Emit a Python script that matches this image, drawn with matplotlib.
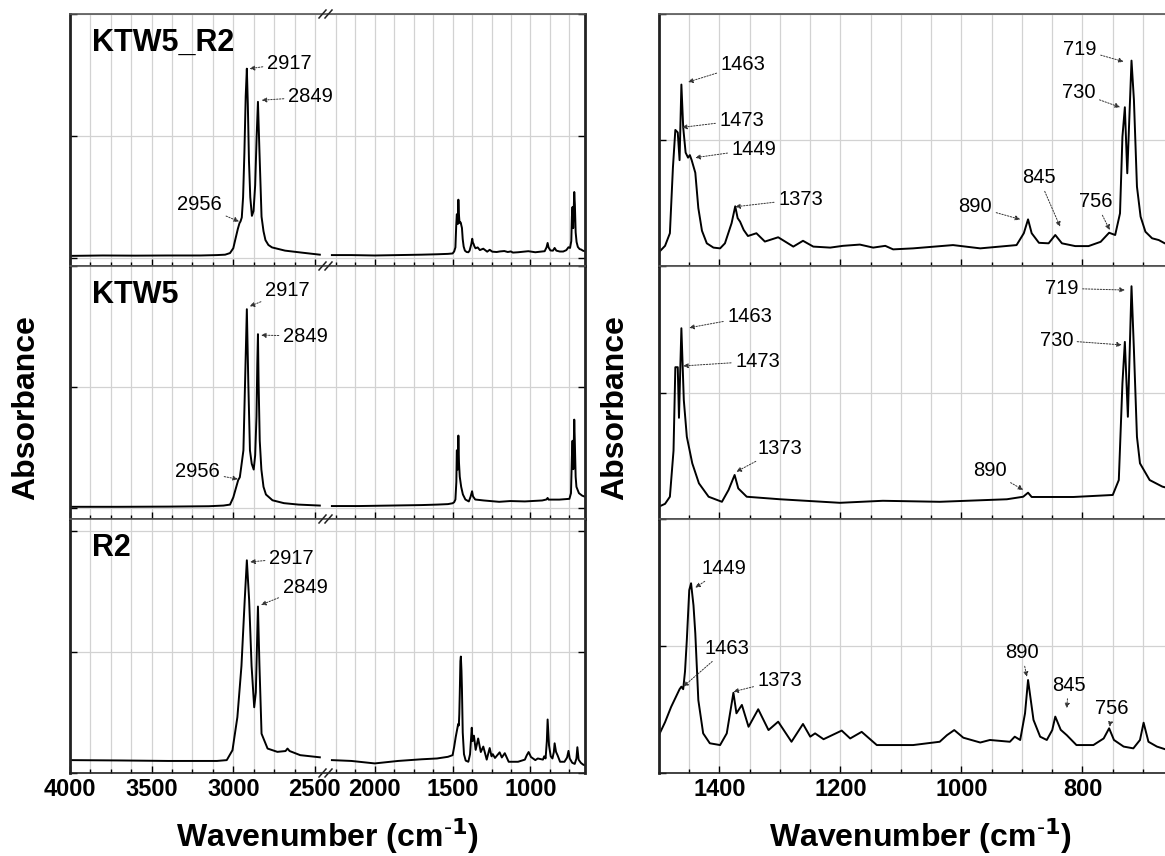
import numpy as np
import matplotlib
matplotlib.use('Agg')
import matplotlib.pyplot as plt

plt.rcParams['font.family'] = ['Liberation Sans', 'DejaVu Sans']

#---DATA (absorbance in arbitrary units)------------------------------------------------------------------

names = ['KTW5_R2', 'KTW5', 'R2']

#C-H stretching region (4000 - 2470 cm-1)
hi_wn_1 = [4000, 3800, 3600, 3400, 3200, 3100, 3050, 3020, 3000, 2985, 2972, 2962, 2956, 2948, 2940, 2932,
           2924, 2917, 2911, 2904, 2896, 2886, 2876, 2866, 2857, 2849, 2840, 2827, 2815, 2803, 2785, 2763,
           2683, 2583, 2470]
hi_a_1 = [0.025, 0.03, 0.028, 0.03, 0.03, 0.035, 0.04, 0.06, 0.12, 0.25, 0.36, 0.43, 0.45, 0.50, 0.75, 1.30,
          2.00, 2.34, 1.90, 1.20, 0.75, 0.52, 0.58, 0.90, 1.50, 1.93, 1.33, 0.51, 0.33, 0.22, 0.16, 0.13,
          0.09, 0.066, 0.04]

hi_wn_2 = [4000, 3700, 3400, 3150, 3060, 3020, 3000, 2985, 2970, 2960, 2952, 2938, 2928, 2917, 2908, 2898,
           2887, 2875, 2866, 2858, 2853, 2849, 2845, 2838, 2828, 2815, 2800, 2760, 2690, 2600, 2470]
hi_a_2 = [0.012, 0.012, 0.014, 0.018, 0.025, 0.035, 0.11, 0.20, 0.29, 0.32, 0.42, 0.60, 1.30, 2.07, 1.30, 0.60,
          0.46, 0.40, 0.55, 0.95, 1.50, 1.81, 1.30, 0.70, 0.40, 0.22, 0.14, 0.08, 0.05, 0.035, 0.025]

hi_wn_3 = [4000, 3700, 3400, 3100, 3040, 3005, 2975, 2950, 2930, 2917, 2903, 2888, 2872, 2862, 2849, 2840,
           2827, 2790, 2730, 2680, 2668, 2655, 2590, 2470]
hi_a_3 = [0.12, 0.118, 0.115, 0.115, 0.12, 0.18, 0.38, 0.69, 1.09, 1.33, 1.09, 0.69, 0.44, 0.53, 1.05, 0.70,
          0.28, 0.19, 0.17, 0.175, 0.19, 0.175, 0.15, 0.137]

#Fingerprint region (2275 - 655 cm-1)
lo_wn_1 = [2275, 2150, 2000, 1850, 1700, 1600, 1530, 1500, 1490, 1482, 1477, 1473, 1469, 1466, 1463, 1460,
           1456, 1452, 1449, 1446, 1440, 1435, 1429, 1421, 1410, 1399, 1391, 1380, 1374, 1370, 1366, 1360,
           1353, 1339, 1325, 1303, 1278, 1262, 1245, 1217, 1196, 1168, 1146, 1126, 1113, 1080, 1014, 969,
           909, 897, 890, 884, 872, 856, 845, 834, 812, 790, 770, 756, 746, 738, 734, 730,
           726, 719, 715, 710, 704, 696, 685, 674, 664, 655]
lo_a_1 = [0.035, 0.035, 0.03, 0.035, 0.04, 0.045, 0.05, 0.055, 0.08, 0.13, 0.39, 0.54, 0.53, 0.42, 0.72, 0.55,
          0.45, 0.43, 0.44, 0.42, 0.37, 0.23, 0.14, 0.09, 0.073, 0.07, 0.09, 0.17, 0.237, 0.19, 0.176, 0.143,
          0.119, 0.13, 0.097, 0.114, 0.077, 0.10, 0.077, 0.073, 0.08, 0.085, 0.073, 0.08, 0.066, 0.07, 0.083, 0.07,
          0.083, 0.13, 0.185, 0.13, 0.092, 0.09, 0.123, 0.09, 0.079, 0.079, 0.096, 0.132, 0.123, 0.209, 0.513, 0.63,
          0.368, 0.815, 0.659, 0.315, 0.196, 0.136, 0.11, 0.103, 0.09, 0.085]

lo_wn_2 = [2275, 2100, 1900, 1700, 1600, 1530, 1500, 1490, 1482, 1476, 1473, 1469, 1467, 1463, 1459, 1454,
           1445, 1434, 1418, 1396, 1385, 1375, 1369, 1355, 1300, 1201, 1130, 1036, 925, 898, 890, 884,
           815, 750, 740, 734, 730, 725, 719, 715, 710, 705, 689, 668, 655]
lo_a_2 = [0.02, 0.02, 0.025, 0.03, 0.035, 0.04, 0.049, 0.06, 0.088, 0.27, 0.60, 0.60, 0.40, 0.754, 0.47, 0.325,
          0.22, 0.141, 0.088, 0.068, 0.115, 0.174, 0.121, 0.088, 0.078, 0.064, 0.072, 0.068, 0.078, 0.088, 0.104, 0.087,
          0.087, 0.095, 0.154, 0.536, 0.70, 0.404, 0.92, 0.668, 0.325, 0.22, 0.154, 0.128, 0.12]

lo_wn_3 = [2275, 2150, 2050, 2000, 1950, 1850, 1700, 1600, 1530, 1500, 1490, 1480, 1470, 1466, 1463, 1460,
           1457, 1454, 1450, 1447, 1443, 1440, 1435, 1427, 1416, 1399, 1388, 1377, 1372, 1363, 1352, 1336,
           1319, 1303, 1281, 1262, 1250, 1242, 1228, 1198, 1184, 1165, 1140, 1080, 1036, 1024, 1012, 997,
           969, 953, 920, 912, 903, 895, 890, 881, 870, 859, 850, 845, 836, 826, 810, 782,
           765, 756, 748, 732, 716, 705, 699, 691, 677, 664, 655]
lo_a_3 = [0.12, 0.115, 0.105, 0.10, 0.105, 0.115, 0.125, 0.13, 0.14, 0.15, 0.20, 0.26, 0.31, 0.33, 0.34, 0.33,
          0.40, 0.524, 0.72, 0.747, 0.66, 0.55, 0.287, 0.156, 0.117, 0.11, 0.156, 0.316, 0.235, 0.268, 0.182, 0.251,
          0.169, 0.202, 0.123, 0.193, 0.143, 0.156, 0.133, 0.167, 0.136, 0.162, 0.11, 0.11, 0.123, 0.149, 0.169, 0.139,
          0.12, 0.13, 0.123, 0.143, 0.13, 0.235, 0.366, 0.209, 0.143, 0.13, 0.169, 0.222, 0.17, 0.149, 0.11, 0.11,
          0.136, 0.176, 0.13, 0.104, 0.097, 0.13, 0.198, 0.123, 0.104, 0.094, 0.09]

hi_wn = [hi_wn_1, hi_wn_2, hi_wn_3]
hi_a = [hi_a_1, hi_a_2, hi_a_3]
lo_wn = [lo_wn_1, lo_wn_2, lo_wn_3]
lo_a = [lo_a_1, lo_a_2, lo_a_3]

#Peak labels: (text, peak wn, peak abs, text wn, text abs, text alignment)
left_labels = [
    [('2917', 2900, 2.34, 2794, 2.41, 'left'), ('2849', 2826, 1.95, 2665, 1.99, 'left'),
     ('2956', 2965, 0.45, 3069, 0.655, 'right')],
    [('2917', 2900, 2.10, 2806, 2.26, 'left'), ('2849', 2830, 1.80, 2696, 1.79, 'left'),
     ('2956', 2972, 0.30, 3081, 0.378, 'right')],
    [('2917', 2897, 1.32, 2781, 1.343, 'left'), ('2849', 2830, 1.06, 2698, 1.168, 'left')],
]
right_labels = [
    [('1463', 1452, 0.73, 1398, 0.798, 'left'), ('1473', 1462, 0.55, 1400, 0.579, 'left'),
     ('1449', 1440, 0.43, 1380, 0.463, 'left'), ('1373', 1374, 0.235, 1303, 0.265, 'left'),
     ('890', 903, 0.185, 1005, 0.235, 'left'), ('845', 837, 0.156, 900, 0.35, 'left'),
     ('756', 755, 0.143, 806, 0.255, 'left'), ('730', 738, 0.63, 834, 0.689, 'left'),
     ('719', 732, 0.811, 832, 0.86, 'left')],
    [('1463', 1450, 0.756, 1387, 0.80, 'left'), ('1473', 1460, 0.605, 1374, 0.624, 'left'),
     ('1373', 1372, 0.187, 1337, 0.279, 'left'), ('890', 898, 0.115, 981, 0.191, 'left'),
     ('730', 735, 0.688, 871, 0.707, 'left'), ('719', 730, 0.905, 862, 0.912, 'left')],
    [('1449', 1440, 0.73, 1429, 0.806, 'left'), ('1463', 1460, 0.34, 1424, 0.491, 'left'),
     ('1373', 1377, 0.32, 1337, 0.366, 'left'), ('890', 892, 0.379, 928, 0.474, 'left'),
     ('845', 826, 0.255, 851, 0.346, 'left'), ('756', 755, 0.182, 779, 0.252, 'left')],
]

#---LAYOUT (pixel positions of the panels)-----------------------------------------------------------------

W, H = 1165, 856
fig = plt.figure(figsize=(W/100, H/100), dpi=100)

rows = [(14, 266), (266, 519), (519, 773)]
left_ylims = [(-0.1, 3.016), (-0.115, 2.52), (0.042, 1.58)]
left_yticks = [[0, 1.508, 3.016], [0, 1.26, 2.52], [0.042, 0.776, 1.509]]

def add_px_axes(x0, x1, ytop, ybot):
    return fig.add_axes([x0/W, 1-ybot/H, (x1-x0)/W, (ybot-ytop)/H])

grid_col = '#d2d2d2'
arrow = dict(arrowstyle='-|>', linestyle=(0, (1.5, 1.5)), lw=0.7, color='#333333',
             mutation_scale=7, shrinkA=1, shrinkB=0)

def style(ax):
    ax.tick_params(direction='in', which='both', length=5, width=1, labelsize=17)
    ax.tick_params(which='minor', length=3)
    ax.grid(True, which='both', axis='x', color=grid_col, lw=0.9)
    ax.grid(True, which='major', axis='y', color=grid_col, lw=0.9)
    ax.set_axisbelow(True)
    for s in ax.spines.values():
        s.set_color('#222222')
        s.set_linewidth(1.2)
    ax.spines['top'].set_color('#555555')

for i, (ytop, ybot) in enumerate(rows):
    last = (i == 2)

    #left block: broken x axis, two pieces (right piece first so labels of the left piece sit on top)
    axB = add_px_axes(328, 585, ytop, ybot)
    axA = add_px_axes(70, 328, ytop, ybot)
    for ax in (axA, axB):
        style(ax)
        ax.set_ylim(*left_ylims[i])
        ax.set_yticks(left_yticks[i])
        ax.set_yticklabels([])
    axA.plot(hi_wn[i], hi_a[i], color='black', lw=1.4)
    axB.plot(lo_wn[i], lo_a[i], color='black', lw=1.4)
    axA.set_xlim(4000, 2420)
    axB.set_xlim(2300, 650)
    axA.set_xticks([4000, 3500, 3000, 2500])
    axA.set_xticks(np.arange(2625, 4000, 125), minor=True)
    axB.set_xticks([2000, 1500, 1000])
    axB.set_xticks(np.arange(750, 2300, 125), minor=True)
    axA.spines['right'].set_visible(False)
    axB.spines['left'].set_visible(False)
    axA.spines['left'].set_linewidth(2)
    axB.spines['right'].set_linewidth(2)
    axA.tick_params(axis='y', left=True, right=False)
    axB.tick_params(axis='y', left=False, right=True)
    if not last:
        axA.set_xticklabels([])
        axB.set_xticklabels([])
    else:
        for ax in (axA, axB):
            for t in ax.get_xticklabels():
                t.set_fontweight('bold')
    for (txt, px, pa, tx, ta, al) in left_labels[i]:
        axA.annotate(txt, xy=(px, pa), xytext=(tx, ta), fontsize=14.5, ha=al, va='center',
                     arrowprops=arrow, annotation_clip=False)

    #right block: fingerprint region, runs past the right edge of the figure
    axR = add_px_axes(659, 659 + 850*0.605, ytop, ybot)
    style(axR)
    axR.plot(lo_wn[i], lo_a[i], color='black', lw=1.4)
    axR.set_xlim(1500, 650)
    axR.set_ylim(0, 1)
    axR.set_yticks([0, 0.5, 1])
    axR.set_yticklabels([])
    axR.set_xticks([1400, 1200, 1000, 800])
    axR.set_xticks(np.arange(700, 1500, 50), minor=True)
    axR.spines['left'].set_linewidth(2)
    if not last:
        axR.set_xticklabels([])
    else:
        for t in axR.get_xticklabels():
            t.set_fontweight('bold')
    for (txt, px, pa, tx, ta, al) in right_labels[i]:
        axR.annotate(txt, xy=(px, pa), xytext=(tx, ta), fontsize=14.5, ha=al, va='center',
                     arrowprops=arrow, annotation_clip=False)

    #sample name
    fig.text(92/W, 1-(ytop+37)/H, names[i], fontsize=22, fontweight='bold', va='baseline')

#---AXIS BREAK MARKS---------------------------------------------------------------------------------------

for yb in [14, 266, 519, 773]:
    for dx in (-4, 2):
        x0, x1 = 326 + dx - 3, 326 + dx + 4
        fig.add_artist(plt.Line2D([x0/W, x1/W], [1-(yb+4)/H, 1-(yb-4)/H], color='#222222', lw=1.1))

#---AXIS TITLES---------------------------------------------------------------------------------------------

xlab = r'Wavenumber (cm$^{\mathbf{\text{-}1}}$)'
fig.text(26/W, 1-408/H, 'Absorbance', rotation=90, fontsize=23, fontweight='bold', ha='center', va='center')
fig.text(615/W, 1-408/H, 'Absorbance', rotation=90, fontsize=23, fontweight='bold', ha='center', va='center')
fig.text(327/W, 1-836/H, xlab, fontsize=23, fontweight='bold', ha='center', va='center')
fig.text(920/W, 1-836/H, xlab, fontsize=23, fontweight='bold', ha='center', va='center')

fig.savefig('out.png', dpi=100)
